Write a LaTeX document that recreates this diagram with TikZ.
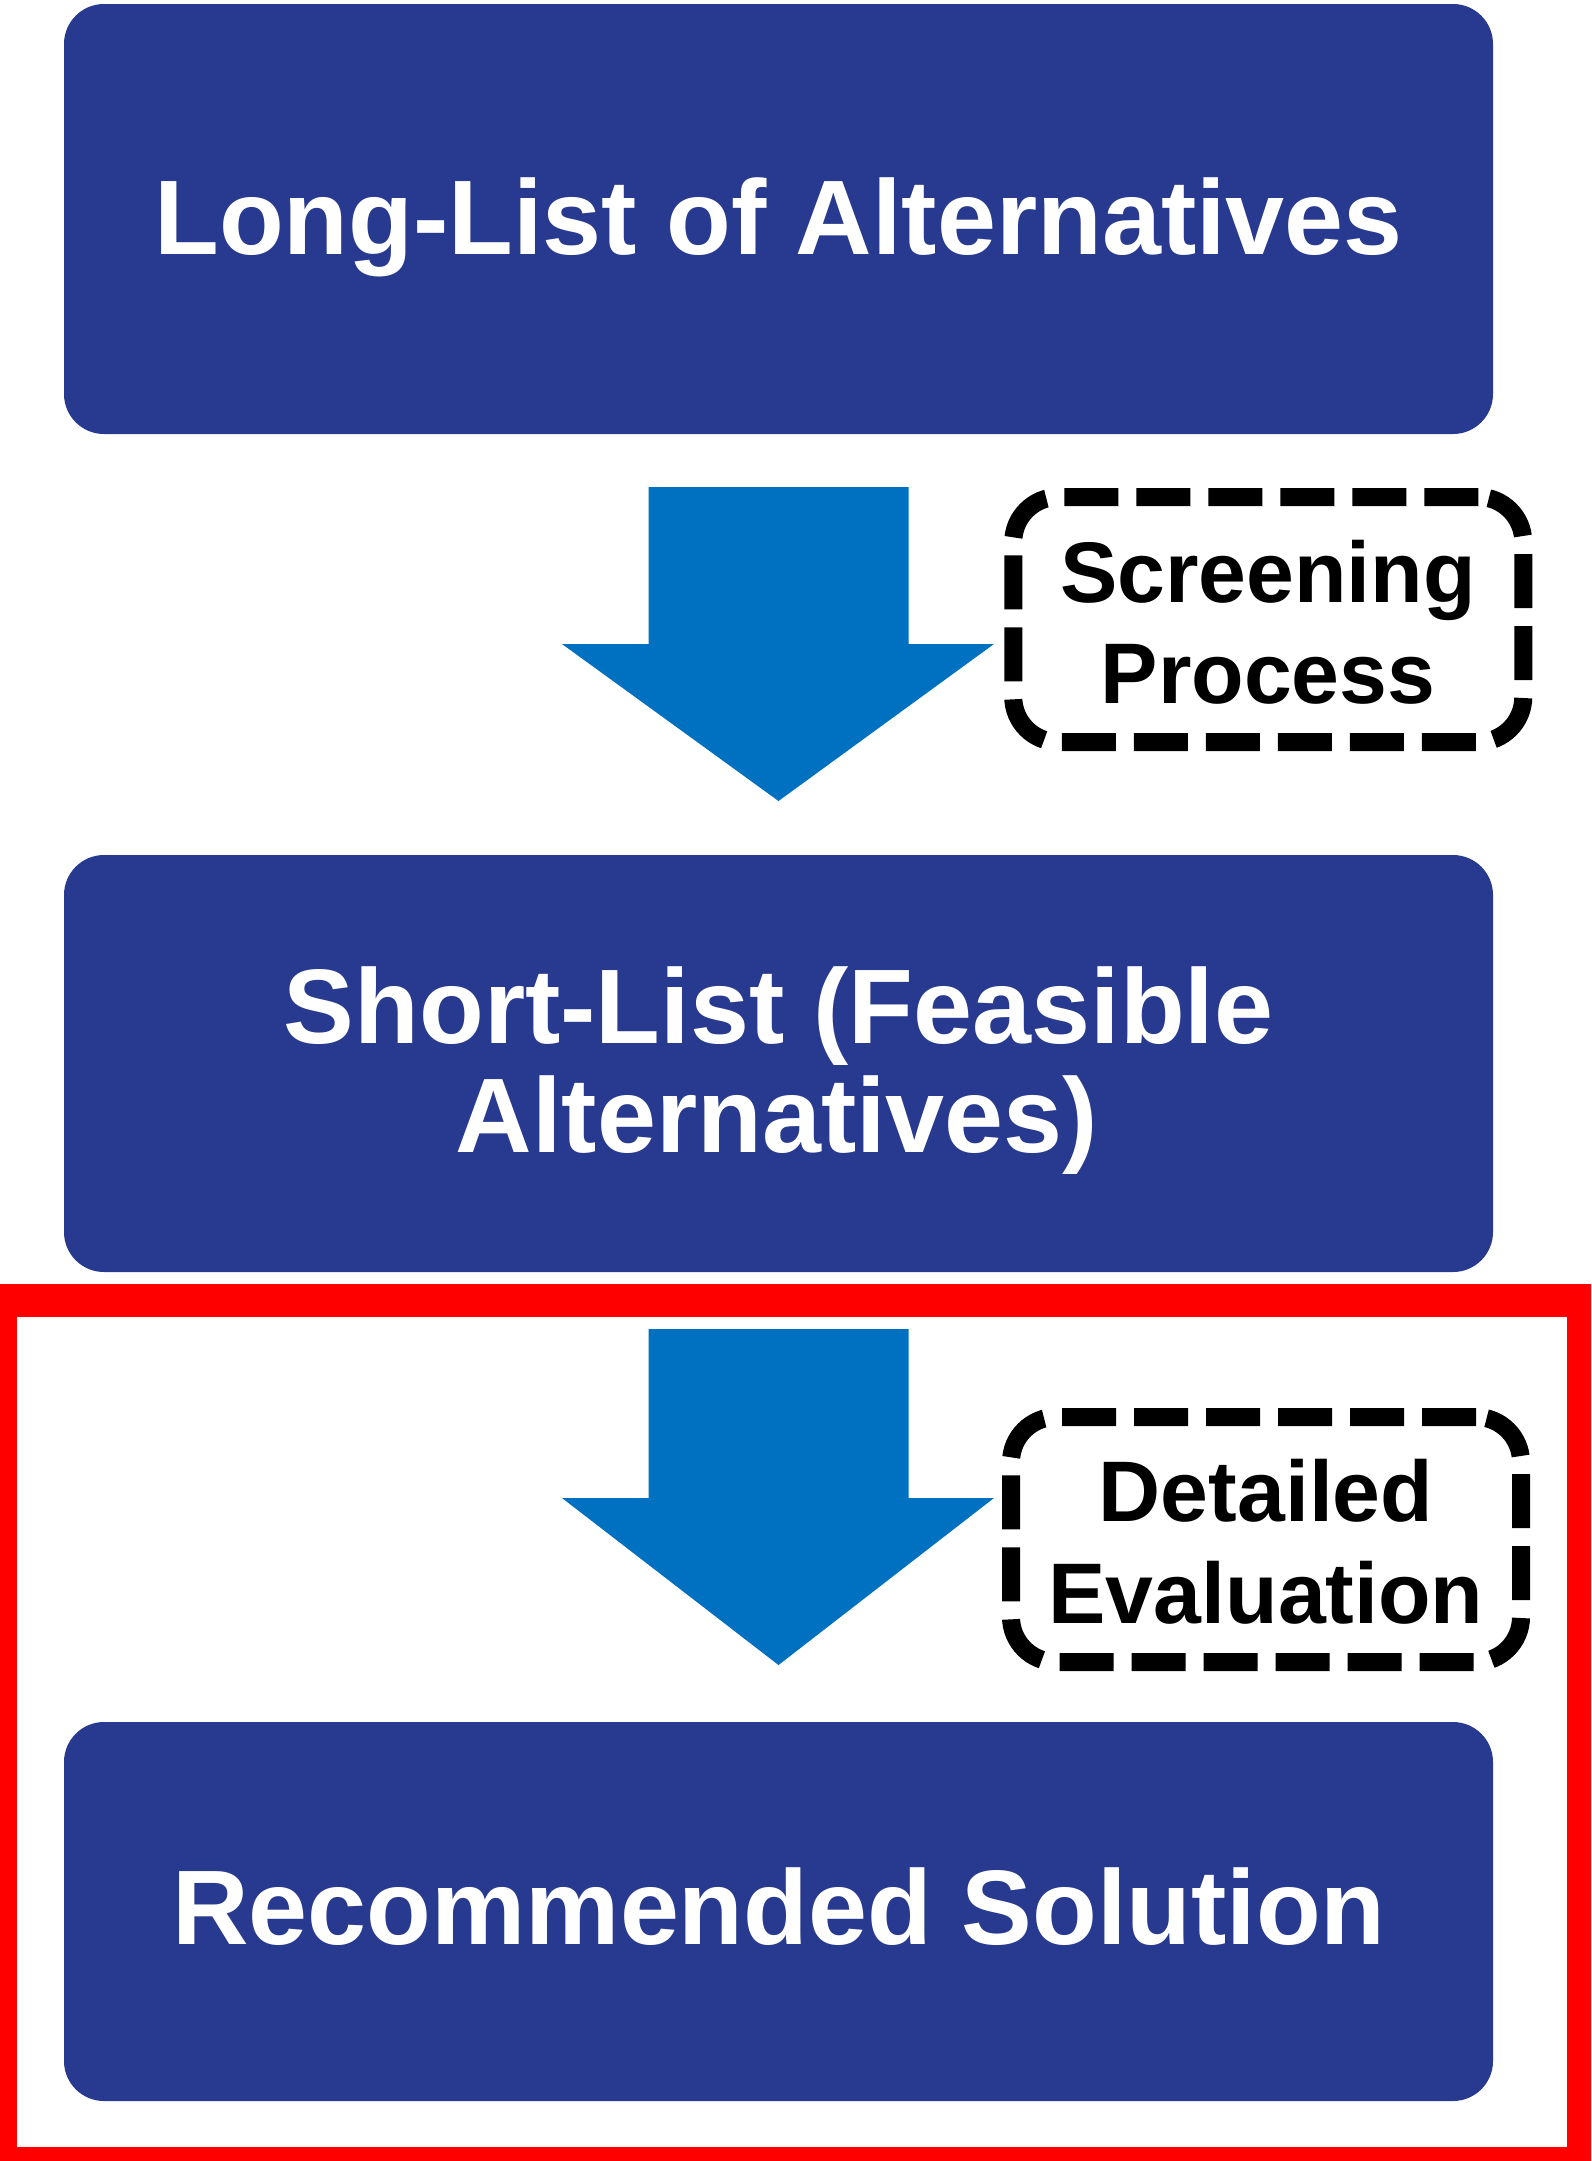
\documentclass[tikz,border=0pt]{standalone}
\usepackage{fontspec}
\setmainfont{Liberation Sans}
\definecolor{boxblue}{RGB}{40,58,143}
\definecolor{arrowblue}{RGB}{0,112,192}
\definecolor{framered}{RGB}{255,0,0}
\begin{document}
\begin{tikzpicture}[x=1pt,y=-1pt,
  bluebox/.style={fill=boxblue, draw=none, rounded corners=40pt, minimum width=1429pt, inner sep=0pt},
  boxtext/.style={text=white, font=\fontsize{106}{109}\selectfont\bfseries, inner sep=0pt, anchor=base},
  notebox/.style={draw=black, line width=18pt, dash pattern=on 54pt off 18pt, rounded corners=45pt, minimum width=510pt, minimum height=245pt, inner sep=0pt},
  notetext/.style={text=black, font=\fontsize{86}{101}\selectfont\bfseries, inner sep=0pt, anchor=base},
  blockarrow/.style={fill=arrowblue, draw=none},
  redframe/.style={draw=framered, line width=33pt}
  ]
\clip (0,0) rectangle (1591,2161);
\fill[white] (0,0) rectangle (1591,2161);

% main boxes
\node[bluebox, minimum height=430pt] (long) at (778.5,219) {};
\node[bluebox, minimum height=417pt] (short) at (778.5,1063.5) {};
\node[bluebox, minimum height=379pt] (rec) at (778.5,1911.5) {};

\node[boxtext] (longtext) at (778.5,254) {Long-List of Alternatives};
\node[boxtext] (shorttexta) at (778.5,1043) {Short-List (Feasible};
\node[boxtext] (shorttextb) at (777,1152) {Alternatives)};
\node[boxtext] (rectext) at (779,1944) {Recommended Solution};

% block arrows
\fill[blockarrow] (648.6,487) -- (908.6,487) -- (908.6,644) -- (994,644)
  -- (778.5,801) -- (562,644) -- (648.6,644) -- cycle;
\fill[blockarrow] (648.6,1329) -- (908.6,1329) -- (908.6,1498) -- (994,1498)
  -- (778.5,1665) -- (562,1498) -- (648.6,1498) -- cycle;

% dashed notes
\node[notebox] (screen) at (1268.25,619.5) {};
\node[notetext] (screena) at (1268,602) {Screening};
\node[notetext] (screenb) at (1268,703) {Process};

\node[notebox] (detail) at (1266,1539.5) {};
\node[notetext] (detaila) at (1266,1521) {Detailed};
\node[notetext] (detailb) at (1266,1623) {Evaluation};

% red frame
\draw[redframe] (0.5,1300) rectangle (1583.5,2163.5);
\end{tikzpicture}
\end{document}
